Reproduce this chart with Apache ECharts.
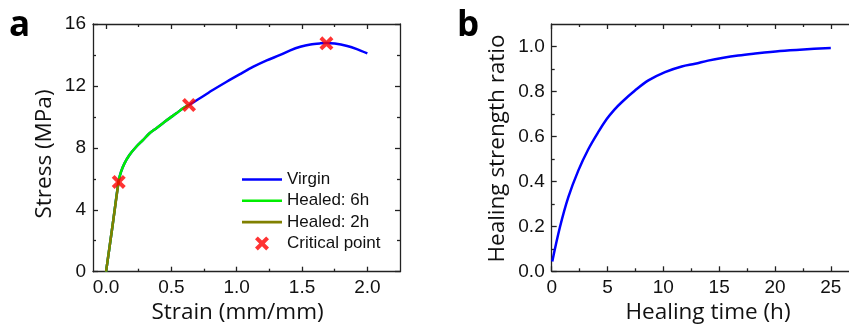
<!DOCTYPE html>
<html>
<head>
<meta charset="utf-8">
<script src="https://cdn.jsdelivr.net/npm/echarts@6/dist/echarts.min.js"></script>
<style>
html,body{margin:0;padding:0;background:#fff;}
#c{width:849px;height:324px;}
</style>
</head>
<body>
<div id="c"></div>
<script>
// ---------- Panel a: stress-strain ----------
const virginStrain = [0.00, 0.05, 0.097, 0.115, 0.141, 0.179, 0.231, 0.282, 0.333, 0.385, 0.435, 0.487, 0.538, 0.589, 0.635, 0.718, 0.82, 0.923, 1.025, 1.128, 1.23, 1.333, 1.41, 1.487, 1.565, 1.64, 1.687, 1.75, 1.846, 1.92, 2.0];
const virginStress = [0.0, 3.0, 5.88, 6.46, 7.0, 7.54, 8.07, 8.5, 8.94, 9.27, 9.59, 9.92, 10.23, 10.56, 10.77, 11.2, 11.75, 12.27, 12.76, 13.24, 13.65, 14.0, 14.3, 14.53, 14.68, 14.75, 14.77, 14.74, 14.58, 14.38, 14.1];
const healed6Strain = [0.00, 0.05, 0.097, 0.115, 0.141, 0.179, 0.231, 0.282, 0.333, 0.385, 0.435, 0.487, 0.538, 0.589, 0.635];
const healed6Stress = [0.0, 3.0, 5.88, 6.46, 7.0, 7.54, 8.07, 8.5, 8.94, 9.27, 9.59, 9.92, 10.23, 10.56, 10.77];
const healed2Strain = [0.00, 0.05, 0.097];
const healed2Stress = [0.0, 3.0, 5.88];
const criticalStrain = [0.097, 0.635, 1.687];
const criticalStress = [5.8, 10.77, 14.75];
const aXTicks = [0, 0.5, 1.0, 1.5, 2.0];
const aXMinor = [0.25, 0.75, 1.25, 1.75];
const aYTicks = [0, 4, 8, 12, 16];
const aYMinor = [2, 6, 10, 14];

// ---------- Panel b: healing ratio ----------
const healTime = [0.05, 0.74, 1.49, 2.39, 3.28, 4.18, 4.93, 5.6, 6.27, 7.46, 8.66, 10.15, 11.65, 12.84, 14.0, 15.38, 16.7, 18.07, 20.46, 22.55, 25.0];
const healRatio = [0.044, 0.197, 0.33, 0.449, 0.543, 0.62, 0.677, 0.718, 0.752, 0.804, 0.849, 0.886, 0.911, 0.923, 0.937, 0.95, 0.96, 0.968, 0.98, 0.987, 0.993];
const bXTicks = [0, 5, 10, 15, 20, 25];
const bXMinor = [2.5, 7.5, 12.5, 17.5, 22.5];
const bYTicks = [0, 0.2, 0.4, 0.6, 0.8, 1.0];
const bYMinor = [0.1, 0.3, 0.5, 0.7, 0.9];

const zip = (a, b) => a.map((v, i) => [v, b[i]]);
const AX = '#222';
const labelFont = {fontFamily: 'Liberation Sans', fontSize: 19, color: '#111'};

function axisSet(grid, posMain, posMirror, min, max, majors, minors, fmt, showMirror) {
  const base = {type: 'value', gridIndex: grid, min: min, max: max, scale: true,
    splitLine: {show: false}};
  const mk = (pos, ticks, len, line, label, show) => Object.assign({}, base, {
    position: pos, show: show,
    axisLine: {show: line, onZero: false, lineStyle: {color: AX, width: 1.3}},
    axisTick: {show: true, inside: true, length: len, customValues: ticks, lineStyle: {color: AX, width: 1.3}},
    axisLabel: label ? Object.assign({show: true, customValues: ticks, margin: 7, formatter: fmt}, labelFont) : {show: false},
  });
  return [
    mk(posMain, majors, 5, true, true, true),
    mk(posMain, minors, 3, false, false, true),
    mk(posMirror, majors, 5, true, false, showMirror),
    mk(posMirror, minors, 3, false, false, showMirror),
  ];
}

const xAxes = [].concat(
  axisSet(0, 'bottom', 'top', -0.1, 2.25, aXTicks, aXMinor, v => v.toFixed(1), true),
  axisSet(1, 'bottom', 'top', 0, 27.5, bXTicks, bXMinor, v => String(v), true)
);
const yAxes = [].concat(
  axisSet(0, 'left', 'right', 0, 16, aYTicks, aYMinor, v => String(v), true),
  axisSet(1, 'left', 'right', 0, 1.1, bYTicks, bYMinor, v => v.toFixed(1), false)
);

const crossPath = 'path://M2,0 L5,3 L8,0 L10,2 L7,5 L10,8 L8,10 L5,7 L2,10 L0,8 L3,5 L0,2 Z';
const lineIcon = 'path://M0,0 L40,0 L40,2.6 L0,2.6 Z';
const titleFont = '22.5px "Open Sans"';

const option = {
  animation: false,
  backgroundColor: '#fff',
  grid: [
    {left: 93, top: 24, width: 307, height: 247.7, outerBoundsMode: 'none', containLabel: false},
    {left: 551.7, top: 24, width: 307, height: 247.3, outerBoundsMode: 'none', containLabel: false}
  ],
  xAxis: xAxes,
  yAxis: yAxes,
  legend: {
    orient: 'vertical', left: 242, top: 171, padding: 0,
    itemWidth: 40, itemHeight: 14, itemGap: 4.3, symbolKeepAspect: true,
    textStyle: {fontFamily: 'Liberation Sans', fontSize: 17, color: '#111'},
    data: [
      {name: 'Virgin', icon: lineIcon},
      {name: 'Healed: 6h', icon: lineIcon},
      {name: 'Healed: 2h', icon: lineIcon},
      {name: 'Critical point', icon: crossPath, itemStyle: {color: '#ff0000'}}
    ]
  },
  graphic: [
    {type: 'text', x: 9, y: 44, style: {text: 'a', font: 'bold 35px "Open Sans"', fill: '#000', textVerticalAlign: 'bottom'}},
    {type: 'text', x: 457, y: 44, style: {text: 'b', font: 'bold 35px "Open Sans"', fill: '#000', textVerticalAlign: 'bottom'}},
    {type: 'text', x: 237.5, y: 313, style: {text: 'Strain (mm/mm)', font: titleFont, fill: '#111', textAlign: 'center', textVerticalAlign: 'middle'}},
    {type: 'text', x: 708, y: 313, style: {text: 'Healing time (h)', font: titleFont, fill: '#111', textAlign: 'center', textVerticalAlign: 'middle'}},
    {type: 'text', x: 45, y: 154, rotation: Math.PI / 2, style: {text: 'Stress (MPa)', font: titleFont, fill: '#111', textAlign: 'center', textVerticalAlign: 'middle'}},
    {type: 'text', x: 498, y: 148.5, rotation: Math.PI / 2, style: {text: 'Healing strength ratio', font: titleFont, fill: '#111', textAlign: 'center', textVerticalAlign: 'middle'}}
  ],
  series: [
    {name: 'Virgin', type: 'line', xAxisIndex: 0, yAxisIndex: 0, data: zip(virginStrain, virginStress),
     symbol: 'none', smooth: 0.3, lineStyle: {color: '#0000ff', width: 2.5}, itemStyle: {color: '#0000ff'}, z: 2},
    {name: 'Healed: 6h', type: 'line', xAxisIndex: 0, yAxisIndex: 0, data: zip(healed6Strain, healed6Stress),
     symbol: 'none', smooth: 0.3, lineStyle: {color: '#00ee00', width: 2.5}, itemStyle: {color: '#00ee00'}, z: 3},
    {name: 'Healed: 2h', type: 'line', xAxisIndex: 0, yAxisIndex: 0, data: zip(healed2Strain, healed2Stress),
     symbol: 'none', lineStyle: {color: '#808000', width: 2.5}, itemStyle: {color: '#808000'}, z: 4},
    {name: 'Critical point', type: 'scatter', xAxisIndex: 0, yAxisIndex: 0, data: zip(criticalStrain, criticalStress),
     symbol: crossPath, symbolSize: 14, itemStyle: {color: '#ff0000'}, z: 5},
    {name: 'Healing ratio', type: 'line', xAxisIndex: 4, yAxisIndex: 4, data: zip(healTime, healRatio),
     symbol: 'none', smooth: 0.35, lineStyle: {color: '#0000ff', width: 2.5}, z: 2}
  ]
};

const chart = echarts.init(document.getElementById('c'), null, {renderer: 'canvas'});
chart.setOption(option);
</script>
</body>
</html>
